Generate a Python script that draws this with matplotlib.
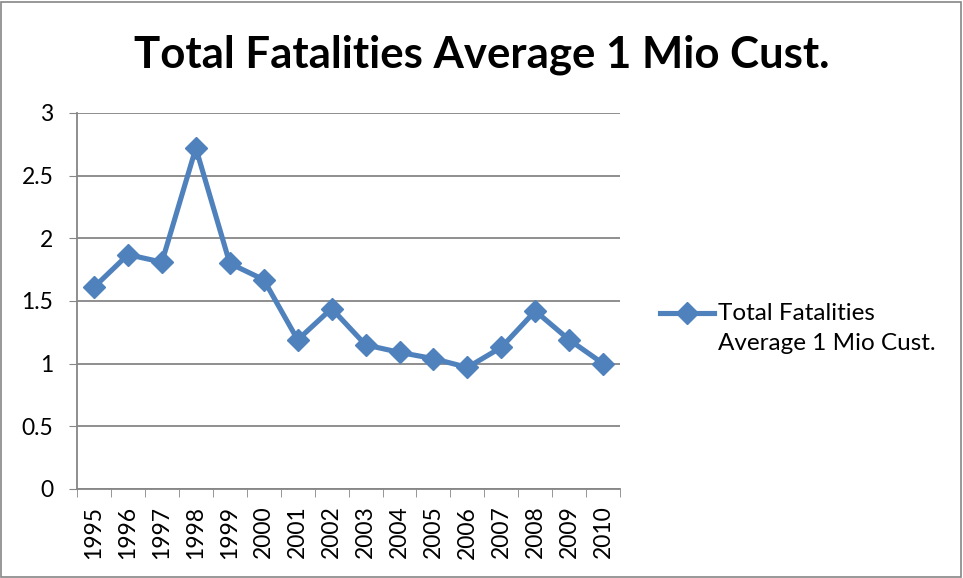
import numpy as np
import matplotlib.pyplot as plt
from matplotlib.lines import Line2D
from matplotlib.patches import Rectangle

plt.rcParams['font.family'] = ['Lato', 'DejaVu Sans']

years = ['1995', '1996', '1997', '1998', '1999', '2000', '2001', '2002',
         '2003', '2004', '2005', '2006', '2007', '2008', '2009', '2010']
fatalities = [1.61, 1.87, 1.81, 2.72, 1.80, 1.67, 1.19, 1.44,
              1.15, 1.09, 1.04, 0.97, 1.13, 1.42, 1.19, 1.00]
legend_lines = ['Total Fatalities', 'Average 1 Mio Cust.']

blue = '#4F81BD'
grey = '#868686'

fig = plt.figure(figsize=(9.63, 5.78), dpi=100)
ax = fig.add_axes([0.080, 0.154, 0.564, 0.6505])

x = np.arange(len(years))
ax.plot(x, fatalities, color=blue, lw=3.7, marker='D', ms=11.5,
        solid_joinstyle='miter')

ax.set_xlim(-0.5, len(years) - 0.5)
ax.set_ylim(0, 3)
ax.set_yticks(np.arange(0, 3.01, 0.5))
ax.set_yticklabels(['0', '0.5', '1', '1.5', '2', '2.5', '3'])
ax.set_xticks(x)
ax.set_xticklabels(years, rotation=90)
ax.set_xticks(np.arange(-0.5, len(years), 1), minor=True)
ax.tick_params(axis='x', which='major', length=0, labelsize=16.5, pad=12)
ax.tick_params(axis='x', which='minor', length=6, color=grey, direction='out')
ax.tick_params(axis='y', length=6, color=grey, labelsize=16.5, pad=11)

ax.grid(axis='y', color=grey, lw=1.3)
ax.set_axisbelow(True)
for s in ['top', 'right']:
    ax.spines[s].set_visible(False)
for s in ['left', 'bottom']:
    ax.spines[s].set_color(grey)
    ax.spines[s].set_linewidth(1.3)

fig.text(0.5, 0.905, 'Total Fatalities Average 1 Mio Cust.', ha='center',
         va='center', fontsize=31.5, fontweight='bold')

# legend, first text line level with the key like the original
ly = 1 - 313 / 578
fig.add_artist(Line2D([660 / 963, 714 / 963], [ly, ly], color=blue, lw=3.7,
                      transform=fig.transFigure))
fig.add_artist(Line2D([687 / 963], [ly], color=blue, marker='D', ms=11.5,
                      transform=fig.transFigure))
fig.text(718 / 963, ly, legend_lines[0], va='center', fontsize=17.5)
fig.text(718 / 963, 1 - 344 / 578, legend_lines[1], va='center', fontsize=17.5)

fig.add_artist(Rectangle((0.001, 0.002), 0.997, 0.995, transform=fig.transFigure,
                         fill=False, edgecolor=grey, lw=1.2))

fig.savefig('out.png', dpi=100)
